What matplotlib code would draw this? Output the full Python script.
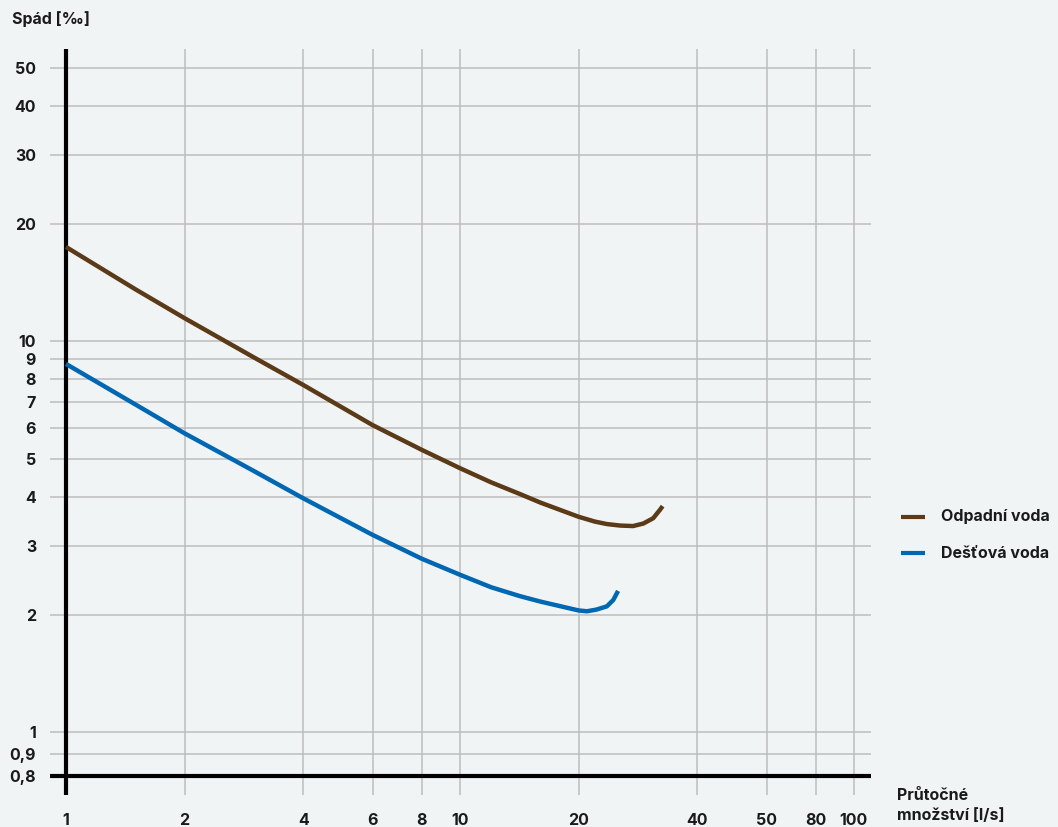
import numpy as np
import matplotlib
matplotlib.use("Agg")
import matplotlib.pyplot as plt
from matplotlib.lines import Line2D

plt.rcParams['font.family'] = ['Inter', 'DejaVu Sans']

# ---- data ----
odpadni_x = [1, 1.5, 2, 3, 4, 6, 8, 10, 12, 14.2, 16, 20, 22, 23.6, 25.5, 27.5, 29.2, 30.95, 32.2, 32.7]
odpadni_y = [17.45, 13.6, 11.47, 9.10, 7.74, 6.11, 5.28, 4.74, 4.36, 4.07, 3.87, 3.56, 3.46, 3.41, 3.38, 3.37, 3.42, 3.53, 3.71, 3.79]

destova_x = [1, 1.5, 2, 3, 4, 6, 8, 10, 12, 14.2, 16, 20, 21, 22.2, 23.6, 24.5, 25.2]
destova_y = [8.76, 6.90, 5.82, 4.66, 3.97, 3.20, 2.78, 2.53, 2.35, 2.23, 2.16, 2.05, 2.04, 2.06, 2.10, 2.18, 2.30]

x_ticks = [1, 2, 4, 6, 8, 10, 20, 40, 60, 80, 100]
x_tick_labels = ["1", "2", "4", "6", "8", "10", "20", "40", "50", "80", "100"]
y_ticks = [0.8, 0.9, 1, 2, 3, 4, 5, 6, 7, 8, 9, 10, 20, 30, 40, 50]
y_tick_labels = ["0,8", "0,9", "1", "2", "3", "4", "5", "6", "7", "8", "9", "10", "20", "30", "40", "50"]

series_names = ["Odpadní voda", "Dešťová voda"]
series_colors = ["#5b3a18", "#0067b3"]

BG = "#f1f4f5"
GRID = "#bdbdbd"
TXT = "#1a1a1a"
FS = 11.5

# y scale: logarithmic above 1, linear between 0.8 and 1 (as in the reference)
K = 0.563
def fwd(y):
    y = np.asarray(y, dtype=float)
    return np.where(y >= 1, np.log10(np.maximum(y, 1e-9)), (y - 1) * K)
def inv(t):
    t = np.asarray(t, dtype=float)
    return np.where(t >= 0, 10 ** t, 1 + t / K)

W, H = 1058, 827
fig = plt.figure(figsize=(W / 100, H / 100), dpi=100)
fig.patch.set_facecolor(BG)
ax = fig.add_axes([50 / W, (H - 795) / H, (871 - 50) / W, (795 - 49) / H])
ax.set_facecolor(BG)

ax.set_xscale("log")
ax.set_yscale("function", functions=(fwd, inv))
ax.set_xlim(0.911, 110.5)
ax.set_ylim(0.715, 56.0)

ax.set_xticks(x_ticks)
ax.set_xticklabels(x_tick_labels)
ax.set_yticks(y_ticks)
ax.set_yticklabels(y_tick_labels)
ax.xaxis.set_minor_locator(matplotlib.ticker.NullLocator())
ax.yaxis.set_minor_locator(matplotlib.ticker.NullLocator())
ax.tick_params(axis="both", length=0, labelsize=FS, labelcolor=TXT)
ax.tick_params(axis="x", pad=13)
ax.tick_params(axis="y", pad=10)
for lab in ax.get_xticklabels() + ax.get_yticklabels():
    lab.set_fontweight("bold")

ax.grid(True, color=GRID, linewidth=1.1, zorder=0)
for s in ax.spines.values():
    s.set_visible(False)

ax.axvline(1, color="black", linewidth=3.0, zorder=2)
ax.axhline(0.8, color="black", linewidth=3.0, zorder=2)

ax.plot(odpadni_x, odpadni_y, color=series_colors[0], linewidth=3.2,
        solid_capstyle="butt", solid_joinstyle="round", zorder=3)
ax.plot(destova_x, destova_y, color=series_colors[1], linewidth=3.2,
        solid_capstyle="butt", solid_joinstyle="round", zorder=3)

# legend (manual)
for i, (name, col) in enumerate(zip(series_names, series_colors)):
    yp = [516.7, 553.3][i]
    fig.add_artist(Line2D([901 / W, 925 / W], [1 - yp / H, 1 - yp / H],
                          color=col, linewidth=3.0, solid_capstyle="butt"))
    fig.text(941 / W, 1 - yp / H, name, fontsize=FS, fontweight="bold",
             color=TXT, ha="left", va="center")

# axis titles
fig.text(12 / W, 1 - 19 / H, "Spád [‰]", fontsize=FS, fontweight="bold",
         color=TXT, ha="left", va="center")
fig.text(897 / W, 1 - 795 / H, "Průtočné", fontsize=FS, fontweight="bold",
         color=TXT, ha="left", va="center")
fig.text(897 / W, 1 - 816 / H, "množství [l/s]", fontsize=FS, fontweight="bold",
         color=TXT, ha="left", va="center")

fig.savefig("out.png", dpi=100, facecolor=BG)
